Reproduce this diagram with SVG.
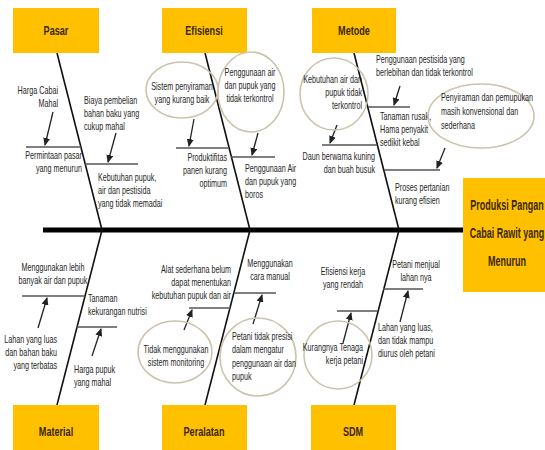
<svg xmlns="http://www.w3.org/2000/svg" width="545" height="450" viewBox="0 0 545 450">
<style>
.box{fill:#FFC000}
.lbl{font-family:"Liberation Sans",Arial,sans-serif;font-weight:bold;font-size:13px;fill:#3a2805;text-anchor:middle}
.big{font-family:"Liberation Sans",Arial,sans-serif;font-weight:bold;font-size:15px;fill:#3a2805;text-anchor:middle}
.t{font-family:"Liberation Sans",Arial,sans-serif;font-size:10.3px;fill:#262626}
.e{text-anchor:end}
.m{text-anchor:middle}
.bone{stroke:#111;stroke-width:1.6;fill:none}
.sub{stroke:#555;stroke-width:1.6;fill:none}
.arr{stroke:#222;stroke-width:1.3;fill:none;marker-end:url(#ah)}
.ell{fill:none;stroke:#cbc3ad;stroke-width:1.6}
</style>
<defs>
<marker id="ah" markerUnits="userSpaceOnUse" markerWidth="8" markerHeight="7" refX="7" refY="3.5" orient="auto">
<path d="M0,0 L8,3.5 L0,7 z" fill="#222"/>
</marker>
</defs>
<rect width="545" height="450" fill="#fff"/>

<g id="connectors">
<line x1="43" y1="230" x2="465" y2="230" stroke="#000" stroke-width="5"/>
<line class="bone" x1="57" y1="53" x2="102" y2="230"/>
<line class="bone" x1="205" y1="53" x2="250" y2="230"/>
<line class="bone" x1="354" y1="53" x2="399" y2="230"/>
<line class="bone" x1="102" y1="230" x2="57" y2="405"/>
<line class="bone" x1="250" y1="230" x2="205" y2="405"/>
<line class="bone" x1="399" y1="230" x2="354" y2="405"/>
<line class="sub" x1="26" y1="147" x2="81" y2="147"/>
<line class="sub" x1="85" y1="164" x2="138" y2="164"/>
<line class="sub" x1="176" y1="148" x2="229" y2="148"/>
<line class="sub" x1="231" y1="157" x2="275" y2="157"/>
<line class="sub" x1="322" y1="145" x2="377" y2="145"/>
<line class="sub" x1="368" y1="107" x2="410" y2="107"/>
<line class="sub" x1="384" y1="170" x2="440" y2="170"/>
<line class="sub" x1="22" y1="296" x2="85" y2="296"/>
<line class="sub" x1="77" y1="327" x2="117" y2="327"/>
<line class="sub" x1="189" y1="308" x2="230" y2="308"/>
<line class="sub" x1="234" y1="293" x2="276" y2="293"/>
<line class="sub" x1="383" y1="289" x2="423" y2="289"/>
<line class="sub" x1="337" y1="311" x2="377" y2="311"/>
<line class="arr" x1="53" y1="112" x2="45" y2="145"/>
<line class="arr" x1="116" y1="133" x2="108" y2="162"/>
<line class="arr" x1="194" y1="119" x2="189" y2="146"/>
<line class="arr" x1="258" y1="133" x2="252" y2="155"/>
<line class="arr" x1="337" y1="125" x2="330" y2="143"/>
<line class="arr" x1="400" y1="86" x2="394" y2="105"/>
<line class="arr" x1="445" y1="148" x2="437" y2="168"/>
<line class="arr" x1="38" y1="328" x2="47" y2="298"/>
<line class="arr" x1="92" y1="356" x2="101" y2="329"/>
<line class="arr" x1="184" y1="330" x2="192" y2="310"/>
<line class="arr" x1="253" y1="324" x2="262" y2="295"/>
<line class="arr" x1="400" y1="322" x2="408" y2="291"/>
<line class="arr" x1="343" y1="343" x2="351" y2="313"/>
</g>

<g id="pasar">
<rect class="box" x="13" y="8" width="86" height="45"/>
<text class="lbl" transform="translate(56,35) scale(0.7,1)">Pasar</text>
</g>
<g id="efisiensi">
<rect class="box" x="162" y="8" width="85" height="45"/>
<text class="lbl" transform="translate(204,35) scale(0.7,1)">Efisiensi</text>
</g>
<g id="metode">
<rect class="box" x="312" y="8" width="84" height="45"/>
<text class="lbl" transform="translate(354,35) scale(0.7,1)">Metode</text>
</g>
<g id="material">
<rect class="box" x="13" y="405" width="86" height="50"/>
<text class="lbl" transform="translate(56,436) scale(0.7,1)">Material</text>
</g>
<g id="peralatan">
<rect class="box" x="162" y="405" width="85" height="50"/>
<text class="lbl" transform="translate(204,436) scale(0.7,1)">Peralatan</text>
</g>
<g id="sdm">
<rect class="box" x="311" y="405" width="85" height="50"/>
<text class="lbl" transform="translate(353,436) scale(0.7,1)">SDM</text>
</g>
<g id="produksi">
<rect class="box" x="463" y="178" width="90" height="114"/>
<text class="big" transform="translate(507,0) scale(0.6,1)"><tspan x="0" y="210">Produksi Pangan</tspan><tspan x="0" y="238">Cabai Rawit yang</tspan><tspan x="0" y="266">Menurun</tspan></text>
</g>

<g id="pasar-causes">
<text class="t e" transform="translate(58,94) scale(0.7,1)"><tspan x="0">Harga Cabai</tspan><tspan x="0" dy="13">Mahal</tspan></text>
<text class="t e" transform="translate(82,159) scale(0.7,1)"><tspan x="0">Permintaan pasar</tspan><tspan x="0" dy="13">yang menurun</tspan></text>
<text class="t" transform="translate(84,104) scale(0.7,1)"><tspan x="0">Biaya pembelian</tspan><tspan x="0" dy="13">bahan baku yang</tspan><tspan x="0" dy="13">cukup mahal</tspan></text>
<text class="t" transform="translate(98,181) scale(0.7,1)"><tspan x="0">Kebutuhan pupuk,</tspan><tspan x="0" dy="13">air dan pestisida</tspan><tspan x="0" dy="13">yang tidak memadai</tspan></text>
</g>

<g id="efisiensi-causes">
<ellipse class="ell" cx="182" cy="90" rx="36" ry="28"/>
<text class="t m" transform="translate(182,90) scale(0.7,1)"><tspan x="0">Sistem penyiraman</tspan><tspan x="0" dy="13">yang kurang baik</tspan></text>
<ellipse class="ell" cx="251" cy="92" rx="33" ry="40"/>
<text class="t m" transform="translate(250,76) scale(0.7,1)"><tspan x="0">Penggunaan air</tspan><tspan x="0" dy="13">dan pupuk yang</tspan><tspan x="0" dy="13">tidak terkontrol</tspan></text>
<text class="t e" transform="translate(227,161) scale(0.7,1)"><tspan x="0">Produktifitas</tspan><tspan x="0" dy="13">panen kurang</tspan><tspan x="0" dy="13">optimum</tspan></text>
<text class="t" transform="translate(245,172) scale(0.7,1)"><tspan x="0">Penggunaan Air</tspan><tspan x="0" dy="13">dan pupuk yang</tspan><tspan x="0" dy="13">boros</tspan></text>
</g>

<g id="metode-causes">
<ellipse class="ell" cx="334" cy="94" rx="34" ry="36"/>
<text class="t e" transform="translate(362,83) scale(0.7,1)"><tspan x="0">Kebutuhan air dan</tspan><tspan x="0" dy="13">pupuk tidak</tspan><tspan x="0" dy="13">terkontrol</tspan></text>
<text class="t e" transform="translate(375,160) scale(0.7,1)"><tspan x="0">Daun berwarna kuning</tspan><tspan x="0" dy="13">dan buah busuk</tspan></text>
<text class="t" transform="translate(376,63) scale(0.7,1)"><tspan x="0">Penggunaan pestisida yang</tspan><tspan x="0" dy="13">berlebihan dan tidak terkontrol</tspan></text>
<text class="t" transform="translate(380,120) scale(0.7,1)"><tspan x="0">Tanaman rusak,</tspan><tspan x="0" dy="13">Hama penyakit</tspan><tspan x="0" dy="13">sedikit kebal</tspan></text>
<ellipse class="ell" cx="481" cy="116" rx="53" ry="32"/>
<text class="t" transform="translate(441,101) scale(0.7,1)"><tspan x="0">Penyiraman dan pemupukan</tspan><tspan x="0" dy="14">masih konvensional dan</tspan><tspan x="0" dy="14">sederhana</tspan></text>
<text class="t" transform="translate(395,191) scale(0.7,1)"><tspan x="0">Proses pertanian</tspan><tspan x="0" dy="13">kurang efisien</tspan></text>
</g>

<g id="material-causes">
<text class="t m" transform="translate(53,271) scale(0.7,1)"><tspan x="0">Menggunakan lebih</tspan><tspan x="0" dy="13">banyak air dan pupuk</tspan></text>
<text class="t e" transform="translate(57,343) scale(0.7,1)"><tspan x="0">Lahan yang luas</tspan><tspan x="0" dy="13">dan bahan baku</tspan><tspan x="0" dy="13">yang terbatas</tspan></text>
<text class="t" transform="translate(88,302) scale(0.7,1)"><tspan x="0">Tanaman</tspan><tspan x="0" dy="13">kekurangan nutrisi</tspan></text>
<text class="t" transform="translate(74,373) scale(0.7,1)"><tspan x="0">Harga pupuk</tspan><tspan x="0" dy="13">yang mahal</tspan></text>
</g>

<g id="peralatan-causes">
<text class="t e" transform="translate(231,273) scale(0.7,1)"><tspan x="0">Alat sederhana belum</tspan><tspan x="0" dy="13">dapat menentukan</tspan><tspan x="0" dy="13">kebutuhan pupuk dan air</tspan></text>
<text class="t m" transform="translate(270,267) scale(0.7,1)"><tspan x="0">Menggunakan</tspan><tspan x="0" dy="13">cara manual</tspan></text>
<ellipse class="ell" cx="175" cy="352" rx="37" ry="31"/>
<text class="t m" transform="translate(176,353) scale(0.7,1)"><tspan x="0">Tidak menggunakan</tspan><tspan x="0" dy="13">sistem monitoring</tspan></text>
<ellipse class="ell" cx="258" cy="357" rx="38" ry="39"/>
<text class="t" transform="translate(232,340) scale(0.7,1)"><tspan x="0">Petani tidak presisi</tspan><tspan x="0" dy="13.5">dalam mengatur</tspan><tspan x="0" dy="13.5">penggunaan air dan</tspan><tspan x="0" dy="13.5">pupuk</tspan></text>
</g>

<g id="sdm-causes">
<text class="t m" transform="translate(416,268) scale(0.7,1)"><tspan x="0">Petani menjual</tspan><tspan x="0" dy="13">lahan nya</tspan></text>
<text class="t" transform="translate(378,331) scale(0.7,1)"><tspan x="0">Lahan yang luas,</tspan><tspan x="0" dy="13">dan tidak mampu</tspan><tspan x="0" dy="13">diurus oleh petani</tspan></text>
<text class="t m" transform="translate(343,275) scale(0.7,1)"><tspan x="0">Efisiensi kerja</tspan><tspan x="0" dy="13">yang rendah</tspan></text>
<ellipse class="ell" cx="338" cy="355" rx="34" ry="34"/>
<text class="t e" transform="translate(363,351) scale(0.7,1)"><tspan x="0">Kurangnya Tenaga</tspan><tspan x="0" dy="13">kerja petani</tspan></text>
</g>
</svg>
